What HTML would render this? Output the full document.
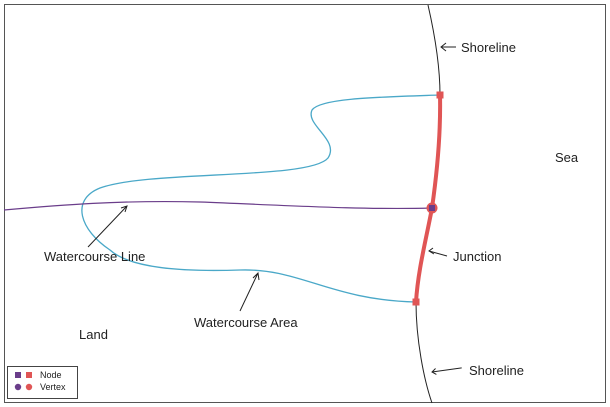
<html><body style="margin:0;background:#fff">
<svg width="610" height="407" xmlns="http://www.w3.org/2000/svg" style="font-family:'Liberation Sans',sans-serif">
<rect x="4.5" y="4.5" width="601" height="398" fill="none" stroke="#555" stroke-width="1"/>
<path d="M428,5 C436,40 440,70 440,95 C441,140 436,180 432,208 C426,240 418,270 416,302 C416,340 424,380 432,403" fill="none" stroke="#222" stroke-width="1"/>
<path d="M440,95 C380,97 320,98 312,110 C305,125 340,140 328,158 C310,180 150,170 100,188 C70,200 80,230 110,250 C130,268 180,272 240,270 C300,268 330,300 416,302" fill="none" stroke="#4aa8c8" stroke-width="1.3"/>
<path d="M4,210 C60,205 120,200 200,202 C280,205 360,210 432,208" fill="none" stroke="#6a3d8a" stroke-width="1.2"/>
<path d="M440,95 C441,140 436,180 432,208 C426,240 418,270 416,302" fill="none" stroke="#e05555" stroke-width="4"/>
<rect x="436.5" y="91.5" width="7" height="7" fill="#e05555"/>
<rect x="412.5" y="298.5" width="7" height="7" fill="#e05555"/>
<circle cx="432" cy="208" r="5.5" fill="#e05555"/><rect x="429" y="205" width="6" height="6" fill="#6a3d8a"/>
<g stroke="#222" fill="none" stroke-width="1">
<path d="M456,47 H441 M446,43 L441,47 L446,51"/>
<path d="M447,256 L429,251 M433,248 L429,251 L434,254"/>
<path d="M462,372 L432,372 M436,369 L432,372 L436,375" transform="rotate(-8 432 372)"/>
<path d="M88,247 L127,206 M121,208 L127,206 L125,212"/>
<path d="M240,311 L258,273 M253,278 L258,273 L259,280"/>
</g>
<g font-size="13" fill="#222">
<text x="461" y="52">Shoreline</text>
<text x="555" y="162">Sea</text>
<text x="453" y="261">Junction</text>
<text x="469" y="375">Shoreline</text>
<text x="44" y="261">Watercourse Line</text>
<text x="194" y="327">Watercourse Area</text>
<text x="79" y="339">Land</text>
</g>
<rect x="7.5" y="366.5" width="70" height="32" fill="#fff" stroke="#444"/>
<rect x="15" y="372" width="6" height="6" fill="#6a3d8a"/><rect x="26" y="372" width="6" height="6" fill="#e05555"/>
<circle cx="18" cy="387" r="3.2" fill="#6a3d8a"/><circle cx="29" cy="387" r="3.2" fill="#e05555"/>
<text x="40" y="378" font-size="9" fill="#222">Node</text>
<text x="40" y="390" font-size="9" fill="#222">Vertex</text>
</svg>
</body></html>
